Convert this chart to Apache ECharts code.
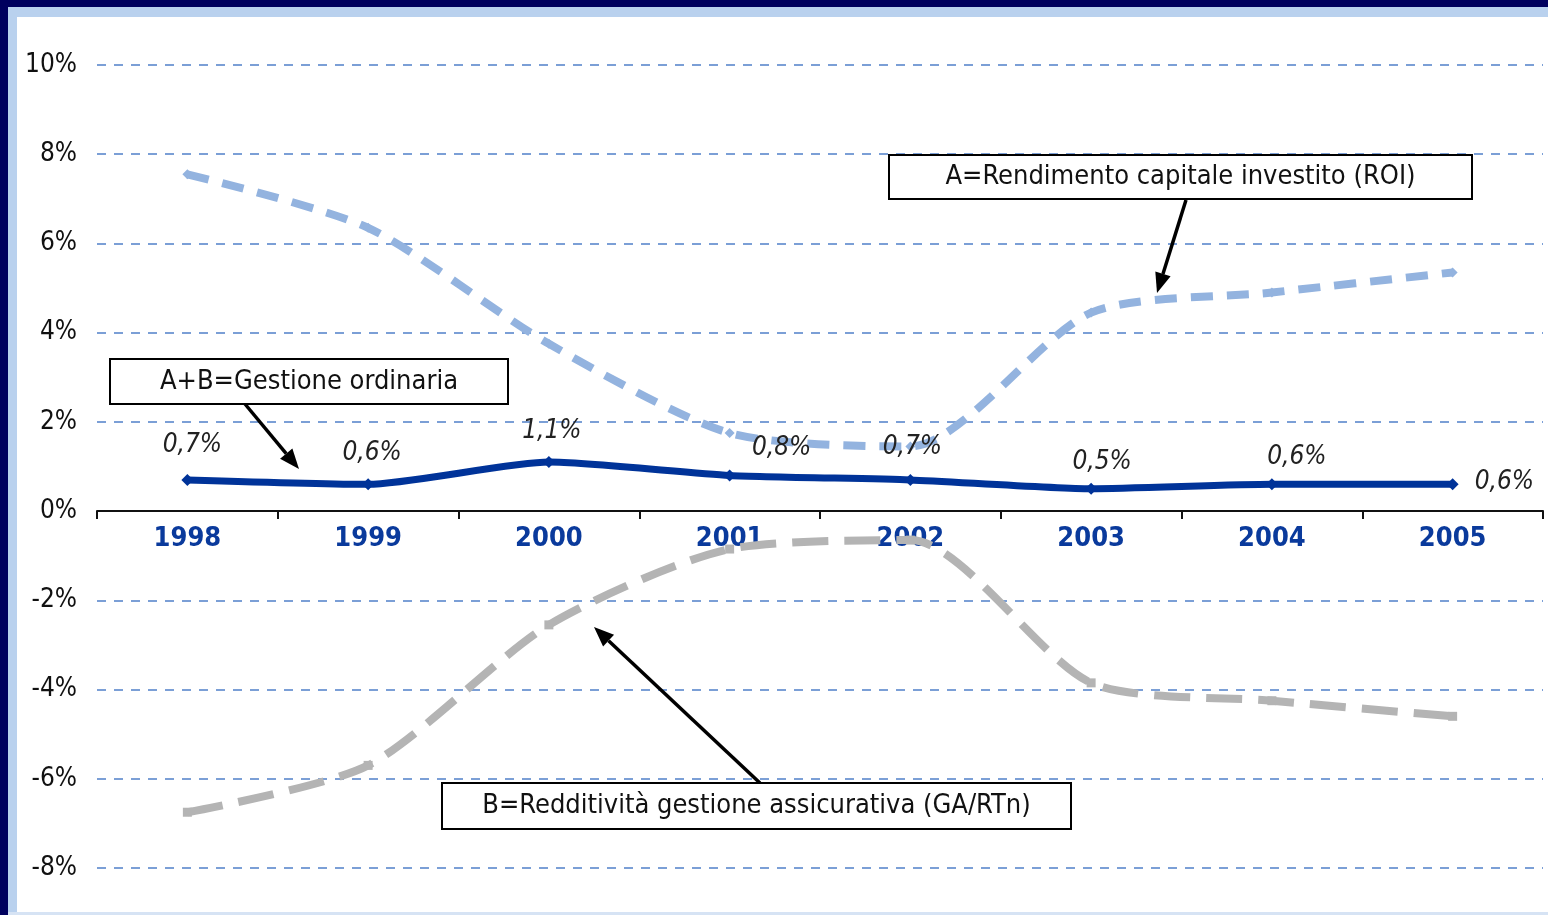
<!DOCTYPE html>
<html>
<head>
<meta charset="utf-8">
<script src="https://cdn.jsdelivr.net/npm/echarts@6/dist/echarts.min.js"></script>
<style>
html,body{margin:0;padding:0;background:#fff;}
#c{width:1548px;height:915px;}
</style>
</head>
<body>
<div id="c"></div>
<script>
const years = ['1998','1999','2000','2001','2002','2003','2004','2005'];
const roiA = [7.55, 6.35, 3.75, 1.75, 1.45, 4.45, 4.9, 5.35];
const gestioneB = [-6.75, -5.7, -2.55, -0.85, -0.65, -3.85, -4.25, -4.6];
const ordinariaAB = [0.7, 0.6, 1.1, 0.8, 0.7, 0.5, 0.6, 0.6];
const yTicks = [-8, -6, -4, -2, 0, 2, 4, 6, 8, 10];

const labelOffsets = [[5,-6],[4,-2],[3,-2],[52,2],[2,-4],[11,2],[25,2],[0,0]];
const FONT = '"Liberation Sans Narrow","DejaVu Sans Condensed","Roboto Condensed",sans-serif';

const GRID_TOP = 65, GRID_BOTTOM = 47, H = 915;
const yMin = yTicks[0], yMax = yTicks[yTicks.length-1];
const plotH = H - GRID_TOP - GRID_BOTTOM;
const zeroFromBottom = (0 - yMin) / (yMax - yMin) * plotH;

const chart = echarts.init(document.getElementById('c'), null, {renderer:'canvas'});

function fmt(v){ return String(v).replace('.', ',') + '%'; }

const abData = ordinariaAB.map((v,i)=>{
  const last = i === ordinariaAB.length-1;
  return {
    value: v,
    label: last ? {position:'right', offset:[6,-2]} : {position:'top', offset: labelOffsets[i]}
  };
});

function arrow(x1,y1,x2,y2){
  const ang = Math.atan2(y2-y1, x2-x1);
  const L = 20, W = 8;
  const bx = x2 - L*Math.cos(ang), by = y2 - L*Math.sin(ang);
  const px = -Math.sin(ang)*W, py = Math.cos(ang)*W;
  return [
    {type:'line', shape:{x1:x1,y1:y1,x2:bx,y2:by}, style:{stroke:'#000', lineWidth:3.5}, z:50},
    {type:'polygon', shape:{points:[[x2,y2],[bx+px,by+py],[bx-px,by-py]]}, style:{fill:'#000'}, z:50}
  ];
}
function box(x,y,w,h,text){
  return [
    {type:'rect', shape:{x:x,y:y,width:w,height:h}, style:{fill:'#fff', stroke:'#000', lineWidth:2}, z:60},
    {type:'text', x:x+w/2, y:y+h/2, style:{text:text, font:'27px '+FONT, fill:'#111', align:'center', verticalAlign:'middle'}, z:61}
  ];
}

const option = {
  backgroundColor:'#fff',
  animation:false,
  grid:{left:97, right:5, top:GRID_TOP, bottom:GRID_BOTTOM, containLabel:false},
  xAxis:{
    type:'category',
    data: years,
    boundaryGap:true,
    position:'bottom',
    offset: -zeroFromBottom,
    axisLine:{onZero:false, lineStyle:{color:'#111', width:2}},
    axisTick:{show:true, length:8, lineStyle:{color:'#111', width:2}},
    axisLabel:{color:'#0a3a9c', fontFamily:FONT, fontWeight:'bold', fontSize:27, margin:14},
    splitLine:{show:false}
  },
  yAxis:{
    type:'value',
    min: yMin, max: yMax, interval:2,
    axisLine:{show:false},
    axisTick:{show:false},
    axisLabel:{formatter: v => v + '%', color:'#111', fontFamily:FONT, fontSize:26, margin:20},
    splitLine:{show:true, lineStyle:{color:'#7b9fd6', width:2, type:[9,8]}}
  },
  series:[
    {
      name:'A', type:'line', data: roiA, smooth:0.25,
      symbol:'diamond', symbolSize:10,
      itemStyle:{color:'#93b3df'},
      lineStyle:{color:'#93b3df', width:8, type:[22,14]},
      z:3
    },
    {
      name:'B', type:'line', data: gestioneB, smooth:0.25,
      symbol:'rect', symbolSize:9,
      itemStyle:{color:'#b4b4b4'},
      lineStyle:{color:'#b4b4b4', width:8, type:[36,16]},
      z:3
    },
    {
      name:'A+B', type:'line', data: abData, smooth:0.2,
      symbol:'diamond', symbolSize:12,
      itemStyle:{color:'#003399'},
      lineStyle:{color:'#003399', width:7},
      label:{show:true, formatter: p => fmt(p.value), fontFamily:FONT, fontStyle:'italic', fontSize:26, color:'#222', distance:10},
      z:4
    }
  ],
  graphic: [
    {type:'rect', shape:{x:0,y:0,width:1548,height:7}, style:{fill:'#00005e'}, z:100},
    {type:'rect', shape:{x:0,y:0,width:8,height:915}, style:{fill:'#00005e'}, z:100},
    {type:'rect', shape:{x:8,y:7,width:1540,height:10}, style:{fill:'#b9d1ee'}, z:99},
    {type:'rect', shape:{x:8,y:7,width:9,height:908}, style:{fill:'#b9d1ee'}, z:99},
    {type:'rect', shape:{x:8,y:912,width:1540,height:3}, style:{fill:'#d6e3f4'}, z:99},
    ...box(110,359,398,45,'A+B=Gestione ordinaria'),
    ...arrow(245,404,299,469),
    ...box(889,155,583,44,'A=Rendimento capitale investito (ROI)'),
    ...arrow(1186,200,1157,293),
    ...box(442,783,629,46,'B=Redditività gestione assicurativa (GA/RTn)'),
    ...arrow(760,783,594,627)
  ]
};
chart.setOption(option);
</script>
</body>
</html>
